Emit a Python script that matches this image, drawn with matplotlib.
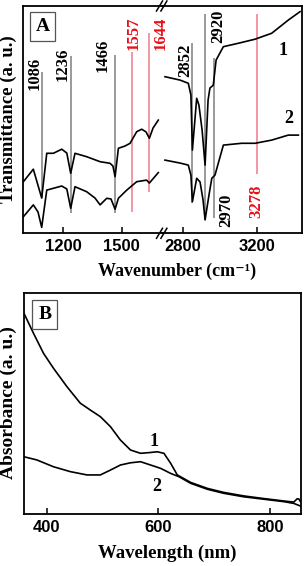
import matplotlib
matplotlib.use("Agg")
import matplotlib.pyplot as plt

# ---------------- data: panel A (FTIR) ----------------
# fingerprint region (cm-1) and transmittance (a.u.)
fp_wn_1 = [995, 1046, 1089, 1115, 1149, 1192, 1218, 1238, 1260, 1320, 1389, 1440, 1455, 1466,
           1483, 1517, 1543, 1577, 1603, 1625, 1642, 1661, 1688]
fp_T_1 = [22.7, 28.2, 15.5, 35.2, 35.2, 37.0, 35.3, 26.4, 35.2, 33.7, 31.5, 30.8, 29.6, 24.9,
          37.4, 38.4, 39.6, 44.7, 45.8, 44.6, 41.8, 46.3, 49.8]
fp_wn_2 = [995, 1046, 1070, 1089, 1115, 1149, 1192, 1218, 1238, 1260, 1320, 1363, 1389, 1423,
           1445, 1466, 1483, 1526, 1577, 1628, 1642, 1688]
fp_T_2 = [7.3, 12.5, 9.4, 2.6, 19.0, 19.8, 20.8, 19.5, 11.0, 20.5, 18.3, 15.5, 12.5, 15.4,
          15.1, 10.6, 15.4, 19.0, 22.7, 23.4, 22.1, 26.7]
# C-H region
ch_wn_1 = [2705, 2786, 2830, 2844, 2852, 2875, 2887, 2904, 2920, 2936, 2946, 2964, 2979, 3018,
           3098, 3188, 3277, 3366, 3429]
ch_T_1 = [68.9, 67.4, 66.0, 60.8, 36.6, 59.4, 56.4, 45.4, 30.0, 58.6, 63.9, 65.2, 76.2, 82.1,
          83.6, 85.4, 88.0, 93.8, 97.5]
ch_wn_2 = [2705, 2786, 2830, 2844, 2852, 2875, 2893, 2909, 2920, 2941, 2956, 2973, 3018, 3116,
           3188, 3277, 3366, 3420]
ch_T_2 = [32.2, 30.9, 30.0, 25.6, 13.9, 24.2, 22.6, 14.7, 5.9, 16.9, 24.2, 25.6, 38.8, 39.6,
          39.6, 41.0, 43.2, 43.2]

# marker lines: label, drawn position, bottom, top, colour group
peak_labels = ["1086", "1236", "1466", "1557", "1644", "2852", "2920", "2970", "3278"]
peak_pos = [1088, 1238, 1466, 1551, 1642, 2852, 2921, 2969, 3198]
peak_ymin = [15.5, 8.9, 8.9, 9.4, 18.2, 13.3, 5.9, 6.7, 26.1]
peak_ymax = [70.9, 78.0, 78.4, 79.8, 88.1, 83.7, 96.5, 77.1, 96.5]
peak_red = [False, False, False, True, True, False, False, False, True]

# ---------------- data: panel B (UV-vis) ----------------
uv_wl_1 = [359, 376, 394, 412, 436, 460, 478, 496, 514, 532, 550, 568, 583, 598, 610, 622, 634,
           658, 688, 717, 753, 789, 825, 843, 849, 852, 855]
uv_A_1 = [90.9, 81.9, 72.8, 66.0, 57.7, 50.2, 47.1, 44.1, 39.6, 33.5, 29.0, 27.5, 27.8, 28.2,
          27.5, 23.0, 17.7, 14.3, 11.6, 9.8, 8.2, 7.0, 5.9, 5.4, 6.9, 6.8, 5.6]
uv_wl_2 = [358, 382, 412, 442, 472, 496, 514, 532, 550, 568, 586, 604, 622, 637, 658, 688, 717,
           753, 789, 825, 843, 855]
uv_A_2 = [26.0, 24.5, 21.4, 19.2, 17.7, 17.7, 19.9, 22.2, 23.2, 23.7, 22.2, 20.7, 18.4, 16.9,
          13.9, 11.2, 9.4, 7.8, 6.7, 5.6, 4.8, 3.6]

xticks_A_left = [1200, 1500]
xticks_A_right = [2800, 3200]
xticks_B = [400, 600, 800]

# ---------------- style ----------------
SERIF = ["Liberation Serif", "DejaVu Serif"]
SANS = ["Liberation Sans", "DejaVu Sans"]
GRAY = "#7f7f7f"
PINK = "#f07a8a"
RED = "#e8101a"
LW = 1.2

W, H = 305, 566
fig = plt.figure(figsize=(W / 100, H / 100), dpi=100)

def frac(x0, y0, x1, y1):
    return [x0 / W, 1 - y1 / H, (x1 - x0) / W, (y1 - y0) / H]

axL = fig.add_axes(frac(23.3, 6, 161.7, 233.3))
axR = fig.add_axes(frac(161.7, 6, 301.7, 233.3))
axB = fig.add_axes(frac(24, 293.3, 300.5, 514))
axR.set_facecolor("none")

axL.set_xlim(994.5, 1705.5)
axR.set_xlim(2687.4, 3438)
for ax in (axL, axR):
    ax.set_ylim(0, 100)
    ax.set_yticks([])
axL.spines["right"].set_visible(False)
axR.spines["left"].set_visible(False)
for ax in (axL, axR, axB):
    for s in ax.spines.values():
        s.set_linewidth(1.3)
    ax.tick_params(axis="x", direction="in", length=4, width=1.1, pad=4)

axL.set_xticks(xticks_A_left)
axR.set_xticks(xticks_A_right)
axB.set_xticks(xticks_B)
for ax in (axL, axR, axB):
    ax.set_xticklabels([str(v) for v in ax.get_xticks()], family=SANS, weight="bold", fontsize=12)

# curves panel A
axL.plot(fp_wn_1, fp_T_1, color="black", lw=LW)
axL.plot(fp_wn_2, fp_T_2, color="black", lw=LW)
axR.plot(ch_wn_1, ch_T_1, color="black", lw=LW)
axR.plot(ch_wn_2, ch_T_2, color="black", lw=LW)

# marker lines and labels
label_xy = {  # label centre positions (x in cm-1, y in axis units)
    "1086": (1055, 70.3), "1236": (1195, 74.3), "1466": (1400, 78.2),
    "1557": (1563, 87.9), "1644": (1700, 87.9), "2852": (2816, 76.2),
    "2920": (2991, 91.0), "2970": (3036, 10.3), "3278": (3197, 14.0),
}
for lab, pos, y0, y1, red in zip(peak_labels, peak_pos, peak_ymin, peak_ymax, peak_red):
    ax = axL if pos < 2000 else axR
    ax.vlines(pos, y0, y1, color=PINK if red else GRAY, lw=1.1, zorder=1)
    tx, ty = label_xy[lab]
    ax.text(tx, ty, lab, rotation=90, ha="center", va="center", family=SERIF,
            weight="bold", fontsize=12, color=RED if red else "black", clip_on=False, zorder=5)

axR.text(3339, 80.6, "1", family=SERIF, weight="bold", fontsize=13, ha="center", va="center")
axR.text(3366, 50.6, "2", family=SERIF, weight="bold", fontsize=13, ha="center", va="center")

axL.text(0.139, 0.909, "A", transform=axL.transAxes, family=SERIF, weight="bold", fontsize=14,
         ha="center", va="center",
         bbox=dict(boxstyle="square,pad=0.3", fc="white", ec="#555555", lw=0.9))

# break marks on top and bottom spines
xb = 161.7
for yb in (6, 233.3):
    for dx in (-2.2, 2.2):
        fig.add_artist(plt.Line2D([(xb + dx - 3) / W, (xb + dx + 3) / W],
                                  [1 - (yb + 5) / H, 1 - (yb - 5) / H],
                                  color="black", lw=1.1))

fig.text(177 / W, 1 - 271.7 / H, "Wavenumber (cm\u207b\u00b9)", family=SERIF, weight="bold",
         fontsize=13, ha="center", va="center")
fig.text(8 / W, 1 - 119.5 / H, "Transmittance (a. u.)", family=SERIF, weight="bold",
         fontsize=13.5, ha="center", va="center", rotation=90)

# panel B
axB.plot(uv_wl_1, uv_A_1, color="black", lw=LW)
axB.plot(uv_wl_2, uv_A_2, color="black", lw=LW)
axB.set_xlim(359, 855)
axB.set_ylim(0, 100)
axB.set_yticks([])
axB.text(591.6, 32.8, "1", family=SERIF, weight="bold", fontsize=13, ha="center", va="center")
axB.text(597.7, 12.4, "2", family=SERIF, weight="bold", fontsize=13, ha="center", va="center")
axB.text(0.075, 0.905, "B", transform=axB.transAxes, family=SERIF, weight="bold", fontsize=14,
         ha="center", va="center",
         bbox=dict(boxstyle="square,pad=0.3", fc="white", ec="#555555", lw=0.9))
fig.text(167 / W, 1 - 553.3 / H, "Wavelength (nm)", family=SERIF, weight="bold",
         fontsize=13.5, ha="center", va="center")
fig.text(8 / W, 1 - 403 / H, "Absorbance (a. u.)", family=SERIF, weight="bold",
         fontsize=14, ha="center", va="center", rotation=90)

fig.savefig("out.png", dpi=100)
